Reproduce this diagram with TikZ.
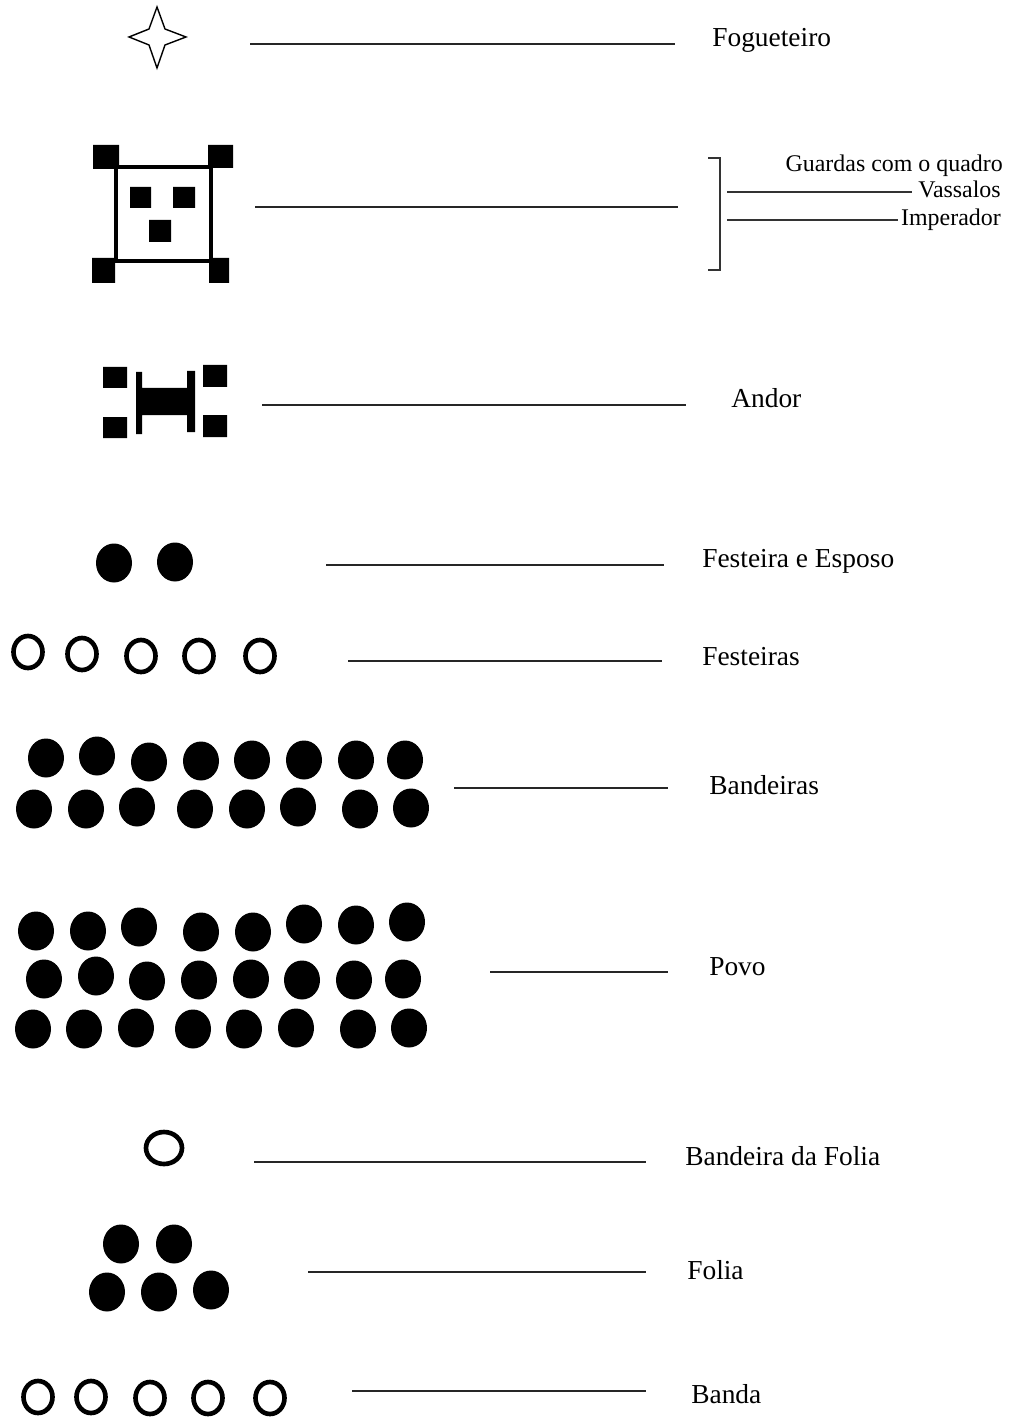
\documentclass[tikz,border=0pt]{standalone}
\usepackage{fontspec}
\setmainfont{Liberation Serif}
\usepackage{tikz}

\begin{document}
\begin{tikzpicture}[x=0.025cm, y=-0.025cm,
  lbl/.style={font=\fontsize{19.5}{23}\selectfont, anchor=base west, inner sep=0pt},
  sub/.style={font=\fontsize{17}{20}\selectfont, anchor=base east, inner sep=0pt},
  ln/.style={line width=1.4pt, black!85}, thinln/.style={line width=1.2pt, black!80},
  sq/.style={fill=black}, frame/.style={draw=black, line width=3.5pt},
  dot/.style={fill=black}, dotr/.style={x radius=18, y radius=19.5},
  ring/.style={draw=black, line width=3.3pt}, ringr/.style={x radius=14.5, y radius=16}]
\useasboundingbox[fill=white] (0,0) rectangle (1008,1417);

\draw[line width=1pt] (157,7) -- (165,29) -- (186,37) -- (165,45) -- (157,68) -- (149,45) -- (129,37) -- (149,29) -- cycle;
\coordinate (fogA) at (250,44); \coordinate (fogB) at (675,44);
\node[lbl] (fog) at (712,47) {Fogueteiro};
\draw[ln] (fogA) -- (fogB);

\fill[sq] (93,145) rectangle (119,169) (208,145) rectangle (233,168) (92,258) rectangle (115,283) (209,258) rectangle (229,283);
\draw[frame] (116,167) rectangle (211,261);
\fill[sq] (130,187) rectangle (151,208) (173,187) rectangle (195,208) (149,220) rectangle (171,242);
\coordinate (impA) at (255,207); \coordinate (impB) at (678,207);
\draw[ln] (impA) -- (impB);
\draw[thinln] (708,158) -- (720,158) -- (720,270) -- (708,270);
\node[sub] (guardas) at (1003,172) {Guardas com o quadro};
\node[sub] (vassalos) at (1001,198) {Vassalos};
\node[sub] (imperador) at (1001,226) {Imperador};
\coordinate (vasA) at (727,192); \coordinate (vasB) at (912,192);
\coordinate (impC) at (727,220); \coordinate (impD) at (898,220);
\draw[thinln] (vasA) -- (vasB); \draw[thinln] (impC) -- (impD);

\fill[sq] (103,367) rectangle (127,388) (103,417) rectangle (127,438) (203,365) rectangle (227,387) (203,415) rectangle (227,437);
\fill[sq] (136,372) rectangle (142,434) (187,371) rectangle (195,432) (141,388) rectangle (188,415);
\coordinate (andA) at (262,405); \coordinate (andB) at (686,405);
\node[lbl] (andor) at (731,408) {Andor};
\draw[ln] (andA) -- (andB);

\fill[dot] (114,563) circle[dotr] (175,562) circle[dotr];
\coordinate (fesA) at (326,565); \coordinate (fesB) at (664,565);
\node[lbl] (festeira) at (702,567) {Festeira e Esposo};
\draw[ln] (fesA) -- (fesB);

\draw[ring] (28,652) circle[ringr] (82,654) circle[ringr] (141,656) circle[ringr] (199,656) circle[ringr] (260,656) circle[ringr];
\coordinate (fssA) at (348,661); \coordinate (fssB) at (662,661);
\node[lbl] (festeiras) at (702,665) {Festeiras};
\draw[ln] (fssA) -- (fssB);

\fill[dot] (46,758) circle[dotr] (97,756) circle[dotr] (149,762) circle[dotr] (201,761) circle[dotr] (252,760) circle[dotr] (304,760) circle[dotr] (356,760) circle[dotr] (405,760) circle[dotr];
\fill[dot] (34,809) circle[dotr] (86,809) circle[dotr] (137,807) circle[dotr] (195,809) circle[dotr] (247,809) circle[dotr] (298,807) circle[dotr] (360,809) circle[dotr] (411,808) circle[dotr];
\coordinate (banA) at (454,788); \coordinate (banB) at (668,788);
\node[lbl] (bandeiras) at (709,794) {Bandeiras};
\draw[ln] (banA) -- (banB);

\fill[dot] (36,931) circle[dotr] (88,931) circle[dotr] (139,927) circle[dotr] (201,932) circle[dotr] (253,932) circle[dotr] (304,924) circle[dotr] (356,925) circle[dotr] (407,922) circle[dotr];
\fill[dot] (44,979) circle[dotr] (96,976) circle[dotr] (147,981) circle[dotr] (199,980) circle[dotr] (251,979) circle[dotr] (302,980) circle[dotr] (354,980) circle[dotr] (403,979) circle[dotr];
\fill[dot] (33,1029) circle[dotr] (84,1029) circle[dotr] (136,1028) circle[dotr] (193,1029) circle[dotr] (244,1029) circle[dotr] (296,1028) circle[dotr] (358,1029) circle[dotr] (409,1028) circle[dotr];
\coordinate (povA) at (490,972); \coordinate (povB) at (668,972);
\node[lbl] (povo) at (709,975) {Povo};
\draw[ln] (povA) -- (povB);

\draw[ring] (164,1148) circle[x radius=18, y radius=16];
\coordinate (bdfA) at (254,1162); \coordinate (bdfB) at (646,1162);
\node[lbl] (bandfolia) at (685,1165) {Bandeira da Folia};
\draw[ln] (bdfA) -- (bdfB);

\fill[dot] (121,1244) circle[dotr] (174,1244) circle[dotr] (107,1292) circle[dotr] (159,1292) circle[dotr] (211,1290) circle[dotr];
\coordinate (folA) at (308,1272); \coordinate (folB) at (646,1272);
\node[lbl] (folia) at (687,1279) {Folia};
\draw[ln] (folA) -- (folB);

\draw[ring] (38,1397) circle[ringr] (91,1397) circle[ringr] (150,1398) circle[ringr] (208,1398) circle[ringr] (270,1398) circle[ringr];
\coordinate (bndA) at (352,1391); \coordinate (bndB) at (646,1391);
\node[lbl] (banda) at (691,1403) {Banda};
\draw[ln] (bndA) -- (bndB);
\end{tikzpicture}
\end{document}
